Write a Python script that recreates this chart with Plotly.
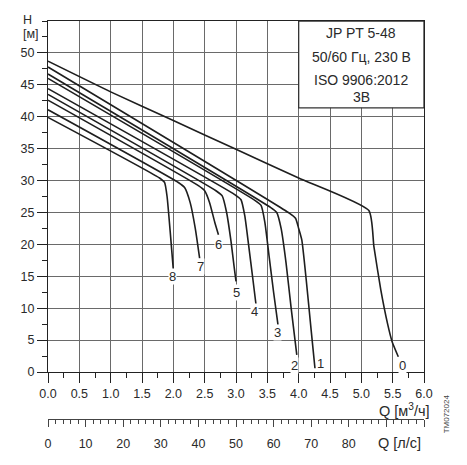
import plotly.graph_objects as go

# ---- data ----
q0 = [0, 1.0, 2.0, 3.0, 4.0, 5.12, 5.2, 5.31, 5.42, 5.49, 5.59]
h0 = [48.7, 43.9, 39.4, 34.9, 30.4, 25.3, 19.7, 12.9, 7.5, 4.8, 2.4]

q1 = [0, 3.85, 3.95, 4.0, 4.05, 4.12, 4.2, 4.26]
h1 = [47.8, 24.9, 24.1, 22.5, 20.7, 14.5, 6.5, 0.6]

q2 = [0, 3.55, 3.65, 3.72, 3.8, 3.88, 3.97]
h2 = [46.7, 25.8, 25.0, 22.5, 17.0, 10.0, 2.7]

q3 = [0, 3.3, 3.4, 3.46, 3.53, 3.6, 3.67]
h3 = [46.0, 26.9, 26.1, 23.5, 18.0, 12.5, 7.4]

q4 = [0, 2.98, 3.08, 3.14, 3.2, 3.27, 3.32]
h4 = [44.4, 27.8, 27.0, 24.5, 20.0, 14.5, 10.5]

q5 = [0, 2.68, 2.78, 2.85, 2.92, 2.97, 3.0]
h5 = [43.5, 28.4, 27.6, 25.0, 20.5, 16.5, 14.2]

q6 = [0, 2.4, 2.5, 2.58, 2.66, 2.72]
h6 = [42.6, 29.2, 28.4, 26.5, 23.5, 21.5]

q7 = [0, 2.08, 2.18, 2.27, 2.35, 2.42]
h7 = [41.1, 29.7, 28.9, 26.5, 22.5, 17.8]

q8 = [0, 1.78, 1.86, 1.9, 1.95, 2.0]
h8 = [39.9, 30.4, 29.7, 27.5, 22.0, 16.0]

curve_names = ["0", "1", "2", "3", "4", "5", "6", "7", "8"]
label_q = [5.65, 4.35, 3.93, 3.67, 3.30, 3.00, 2.72, 2.43, 1.98]
label_h = [1.1, 1.4, 1.1, 6.2, 9.5, 12.5, 20.0, 16.6, 14.9]

x_ticks = [0.0, 0.5, 1.0, 1.5, 2.0, 2.5, 3.0, 3.5, 4.0, 4.5, 5.0, 5.5, 6.0]
y_ticks = [0, 5, 10, 15, 20, 25, 30, 35, 40, 45, 50]
lpm_ticks = [0, 10, 20, 30, 40, 50, 60, 70, 80]
lpm_unlabeled = [90, 100]

info_lines = ["JP PT 5-48", "50/60 Гц, 230 В", "ISO 9906:2012", "3B"]
info_y = [53.1, 49.4, 45.8, 43.1]

FONT = "Liberation Sans, Arial, sans-serif"
TXT = "#2a2a2a"
GRID = "#6a6a6a"
AX = "#222222"

curves_q = [q0, q1, q2, q3, q4, q5, q6, q7, q8]
curves_h = [h0, h1, h2, h3, h4, h5, h6, h7, h8]

fig = go.Figure()
for name, qq, hh in zip(curve_names, curves_q, curves_h):
    fig.add_trace(go.Scatter(
        x=qq, y=hh, mode="lines", name=name,
        line=dict(color="#1e1e1e", width=1.6, shape="spline", smoothing=0.5),
        showlegend=False, hoverinfo="skip"))

# invisible traces to carry the secondary (l/min) axes
for ax in ("x2", "x3"):
    fig.add_trace(go.Scatter(x=[0, 100], y=[None, None],
                             xaxis=ax, yaxis="y", mode="markers",
                             marker=dict(opacity=0), showlegend=False,
                             hoverinfo="skip"))

for name, lq, lh in zip(curve_names, label_q, label_h):
    fig.add_annotation(x=lq, y=lh, text=name, showarrow=False,
                       font=dict(family=FONT, size=13, color=TXT),
                       bgcolor="white", borderpad=0)

# info box
fig.add_shape(type="rect", x0=4.0, x1=6.0, y0=41.4, y1=55, xref="x", yref="y",
              fillcolor="white", line=dict(color="#333333", width=1.3), layer="above")
for t, yy in zip(info_lines, info_y):
    fig.add_annotation(x=5.0, y=yy, text=t, showarrow=False,
                       font=dict(family=FONT, size=14, color=TXT))

# axis labels (positioned relative to the plot area)
def dom_note(x, y, text, size, **kw):
    fig.add_annotation(xref="x domain", yref="y domain", x=x, y=y, text=text,
                       showarrow=False, borderpad=0,
                       font=dict(family=FONT, size=size,
                                 color=kw.pop("color", TXT)), **kw)

dom_note(-0.0704, 1.026, "H", 12.5)
dom_note(-0.0683, 0.985, "[м]", 12.5)
dom_note(1.018, -0.1087, "Q [м<sup>3</sup>/ч]", 14.5, xanchor="right", yanchor="middle")
dom_note(0.995, -0.201, "Q [л/с]", 14.5, xanchor="right", yanchor="middle")
dom_note(1.0736, -0.1785, "TM072024", 8, textangle=-90, color="#444444")

common2 = dict(range=[0, 100], domain=[0, 1], overlaying="x", anchor="free",
               position=0, side="bottom", showgrid=False, zeroline=False,
               showline=True, linecolor="#444444", linewidth=1.2,
               ticks="outside", ticklen=7, tickcolor="#444444")

fig.update_layout(
    width=459, height=457,
    margin=dict(l=35.5, r=43, t=13, b=45.7),
    paper_bgcolor="white", plot_bgcolor="white",
    font=dict(family=FONT, size=12, color=TXT),
    xaxis=dict(range=[0, 6], domain=[0, 1], tickvals=x_ticks,
               tickformat=".1f", showgrid=True, gridcolor=GRID, gridwidth=1.2,
               zeroline=False, showline=True, linecolor=AX, linewidth=1.3,
               mirror=True, ticks="outside", ticklen=10, tickcolor=AX,
               minor=dict(dtick=0.25, ticks="outside", ticklen=5,
                          tickcolor=AX, showgrid=False),
               tickfont=dict(family=FONT, size=12.5, color=TXT), anchor="y"),
    yaxis=dict(range=[0, 55], domain=[0.118, 1], tickvals=y_ticks,
               showgrid=True, gridcolor=GRID, gridwidth=1.2,
               zeroline=False, showline=True, linecolor=AX, linewidth=1.3,
               mirror=True, ticks="outside", ticklen=10, tickcolor=AX,
               minor=dict(dtick=2.5, ticks="outside", ticklen=5,
                          tickcolor=AX, showgrid=False),
               tickfont=dict(family=FONT, size=12.5, color=TXT)),
    xaxis2=dict(**common2, tickvals=lpm_ticks, ticklabelstandoff=6,
                minor=dict(dtick=2, ticks="outside", ticklen=4,
                           tickcolor="#444444", showgrid=False),
                tickfont=dict(family=FONT, size=12.5, color=TXT)),
    xaxis3=dict(**common2, tickvals=lpm_unlabeled, showticklabels=False),
)

fig.write_html("out.html")
